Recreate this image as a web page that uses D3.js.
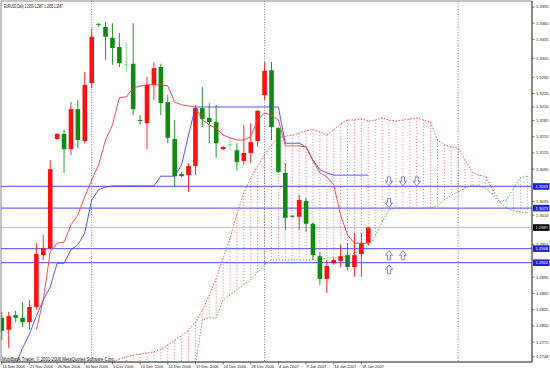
<!DOCTYPE html>
<html><head><meta charset="utf-8">
<script src="https://cdn.jsdelivr.net/npm/d3@7"></script>
<style>html,body{margin:0;padding:0;background:#fff;overflow:hidden}</style>
</head><body><svg id="c" width="550" height="370"></svg>
<script>
// ---- data ----
const opens  = [1.2820,1.2798,1.2825,1.2820,1.2812,1.2840,1.2936,1.2949,1.3151,1.3160,1.3132,1.3206,1.3147,1.3254,1.3363,1.3358,1.3338,1.3321,1.3288,1.3290,1.3185,1.3180,1.3251,1.3284,1.3219,1.3151,1.3086,1.3084,1.3101,1.3208,1.3190,1.3182,1.3132,1.3140,1.3130,1.3110,1.3125,1.3147,1.3232,1.3278,1.3171,1.3088,1.3008,1.3007,1.3036,1.2994,1.2934,1.2892,1.2921,1.2925,1.2936,1.2914,1.2938,1.2959];
const highs  = [1.2831,1.2831,1.2833,1.2849,1.2853,1.2958,1.2973,1.3112,1.3162,1.3168,1.3219,1.3223,1.3275,1.3354,1.3365,1.3367,1.3365,1.3347,1.3328,1.3365,1.3195,1.3266,1.3293,1.3290,1.3232,1.3186,1.3090,1.3106,1.3214,1.3247,1.3217,1.3214,1.3138,1.3153,1.3143,1.3177,1.3180,1.3204,1.3293,1.3293,1.3173,1.3106,1.3010,1.3047,1.3042,1.2997,1.2942,1.2927,1.2931,1.2955,1.2958,1.2977,1.2977,1.2987];
const lows   = [1.2779,1.2764,1.2812,1.2803,1.2798,1.2835,1.2927,1.2946,1.3149,1.3088,1.3121,1.3134,1.3143,1.3245,1.3358,1.3297,1.3288,1.3284,1.3275,1.3195,1.3177,1.3132,1.3223,1.3195,1.3143,1.3062,1.3080,1.3053,1.3084,1.3173,1.3143,1.3116,1.3130,1.3130,1.3092,1.3103,1.3106,1.3136,1.3223,1.3149,1.3088,1.2983,1.3005,1.2983,1.2979,1.2927,1.2881,1.2866,1.2918,1.2914,1.2908,1.2896,1.2896,1.2955];
const closes = [1.2796,1.2823,1.2820,1.2812,1.2840,1.2938,1.2949,1.3095,1.3160,1.3132,1.3206,1.3149,1.3251,1.3340,1.3362,1.3340,1.3319,1.3291,1.3288,1.3206,1.3184,1.3251,1.3282,1.3217,1.3153,1.3082,1.3082,1.3101,1.3208,1.3188,1.3182,1.3143,1.3136,1.3140,1.3108,1.3125,1.3145,1.3203,1.3277,1.3173,1.3090,1.3005,1.3007,1.3038,1.2994,1.2936,1.2892,1.2916,1.2927,1.2934,1.2914,1.2936,1.2958,1.2987];

const dateLabels    = ["16 Nov 2006","21 Nov 2006","26 Nov 2006","30 Nov 2006","5 Dec 2006","10 Dec 2006","14 Dec 2006","19 Dec 2006","24 Dec 2006","28 Dec 2006","4 Jan 2007","9 Jan 2007","14 Jan 2007","18 Jan 2007"];
const dateLabelBars = [0,4,8,12,16,20,24,28,32,36,40,44,48,52];
const priceTicks = [1.3395,1.3365,1.3335,1.3300,1.3265,1.3235,1.3210,1.3185,1.3155,1.3125,1.3095,1.3035,1.3010,1.2955,1.2895,1.2865,1.2835,1.2805,1.2775,1.2748];

const tenkanStart = 5;
const tenkan = [1.2798,1.2853,1.2942,1.2958,1.2960,1.2992,1.3010,1.3044,1.3075,1.3103,1.3149,1.3177,1.3227,1.3229,1.3245,1.3249,1.3251,1.3251,1.3251,1.3249,1.3219,1.3214,1.3212,1.3210,1.3186,1.3177,1.3171,1.3158,1.3153,1.3149,1.3149,1.3155,1.3186,1.3199,1.3195,1.3186,1.3138,1.3138,1.3138,1.3136,1.3110,1.3088,1.3081,1.3066,1.3010,1.2973,1.2958,1.2958,1.2958];
const kijunStart = 2;
const kijun = [1.2733,1.2764,1.2790,1.2823,1.2853,1.2877,1.2921,1.2921,1.2946,1.2955,1.2977,1.3038,1.3057,1.3062,1.3064,1.3064,1.3064,1.3064,1.3064,1.3064,1.3064,1.3082,1.3082,1.3082,1.3103,1.3158,1.3210,1.3210,1.3210,1.3210,1.3210,1.3210,1.3210,1.3210,1.3210,1.3210,1.3210,1.3210,1.3210,1.3143,1.3143,1.3143,1.3136,1.3112,1.3094,1.3088,1.3084,1.3084,1.3084,1.3084,1.3084,1.3084];
const spanAStart = 15;
const spanA = [1.2730,1.2738,1.2744,1.2748,1.2751,1.2753,1.2755,1.2757,1.2762,1.2770,1.2779,1.2787,1.2797,1.2812,1.2834,1.2862,1.2893,1.2930,1.2967,1.3012,1.3051,1.3079,1.3101,1.3121,1.3140,1.3153,1.3156,1.3158,1.3162,1.3166,1.3168,1.3164,1.3158,1.3168,1.3179,1.3186,1.3186,1.3188,1.3184,1.3186,1.3190,1.3186,1.3184,1.3186,1.3188,1.3190,1.3186,1.3182,1.3149,1.3140,1.3136,1.3134,1.3112,1.3090,1.3084,1.3081,1.3057,1.3034,1.3023,1.3018,1.3016,1.3014];
const spanBStart = 28;
const spanB = [1.2731,1.2816,1.2820,1.2820,1.2853,1.2862,1.2872,1.2881,1.2890,1.2905,1.2918,1.2927,1.2927,1.2927,1.2927,1.2927,1.2927,1.2927,1.2927,1.2931,1.2931,1.2931,1.2934,1.2940,1.2946,1.2953,1.2971,1.2997,1.3020,1.3023,1.3023,1.3023,1.3023,1.3023,1.3023,1.3027,1.3038,1.3047,1.3053,1.3060,1.3066,1.3064,1.3060,1.3047,1.3034,1.3038,1.3060,1.3079,1.3082];

const levelLines = [1.3063, 1.3023, 1.2948, 1.2922];
const levelLabels = ["1.3063","1.3023","1.2948","1.2922"];
const bidPrice = 1.2987;
const bidLabel = "1.2987";
const separatorBars = [13, 38, 66];
const arrowBars   = [56, 58, 60, 56, 56, 58, 56];
const arrowPrices = [1.3063, 1.3063, 1.3063, 1.3023, 1.2948, 1.2948, 1.2922];
const arrowDirs   = ["down","down","down","down","up","up","up"];
const titleText = "EURUSD,Daily  1.2959 1.2987 1.2955 1.2987";
const copyText = "MultiBank Trader, \u00A9 2001-2006 MetaQuotes Software Corp.";

// ---- layout ----
const P = {left:1, top:1, right:532, bottom:362};
const x = d3.scaleLinear().domain([0, 53]).range([1.8, 1.8 + 53 * 6.915]);
const y = d3.scaleLinear().domain([1.27383, 1.34061]).range([P.bottom, P.top]);
const FONT = "'Liberation Sans', Arial, sans-serif";

const svg = d3.select("#c");
svg.append("rect").attr("width",550).attr("height",370).attr("fill","#fff");
svg.append("defs").append("clipPath").attr("id","clip")
  .append("rect").attr("x",P.left).attr("y",P.top).attr("width",P.right-P.left).attr("height",P.bottom-P.top);
const g = svg.append("g").attr("clip-path","url(#clip)");

const series = (start, arr) => arr.map((v,i)=>({i:start+i, v}));
const A = series(spanAStart, spanA), B = series(spanBStart, spanB);
const bMap = new Map(B.map(d=>[d.i,d.v]));

// cloud hatching
A.forEach(d=>{
  const b = bMap.has(d.i) ? bMap.get(d.i) : null;
  const up = (b === null) || d.v >= b;
  g.append("line")
    .attr("x1", x(d.i)).attr("x2", x(d.i))
    .attr("y1", y(d.v)).attr("y2", b === null ? P.bottom + 2 : y(b))
    .attr("stroke", up ? "#ef6c6c" : "#5cc05c").attr("stroke-width", 0.8)
    .attr("stroke-dasharray", "1.2,1.8");
});
const line = d3.line().x(d=>x(d.i)).y(d=>y(d.v));
g.append("path").datum(A).attr("d", line).attr("fill","none")
  .attr("stroke","#e04848").attr("stroke-width",0.9).attr("stroke-dasharray","1.5,1.5");
g.append("path").datum(B).attr("d", line).attr("fill","none")
  .attr("stroke","#3fae3f").attr("stroke-width",0.9).attr("stroke-dasharray","1.5,1.5");

// period separators
separatorBars.forEach(b=>{
  g.append("line").attr("x1",x(b)).attr("x2",x(b)).attr("y1",P.top).attr("y2",P.bottom)
    .attr("stroke","#444").attr("stroke-width",0.7).attr("stroke-dasharray","1,1.6");
});

// bid line
g.append("line").attr("x1",P.left).attr("x2",P.right).attr("y1",y(bidPrice)).attr("y2",y(bidPrice))
  .attr("stroke","#b4b4b4").attr("stroke-width",0.8);

// horizontal level lines
levelLines.forEach(p=>{
  g.append("line").attr("x1",P.left).attr("x2",P.right).attr("y1",y(p)).attr("y2",y(p))
    .attr("stroke","#6d6df2").attr("stroke-width",1.2);
});

// candles
const bw = 4.6;
opens.forEach((o,i)=>{
  const c = closes[i], h = highs[i], l = lows[i];
  const col = c > o ? "#ff1010" : (c < o ? "#108a10" : "#70e070");
  g.append("line").attr("x1",x(i)).attr("x2",x(i)).attr("y1",y(h)).attr("y2",y(l))
    .attr("stroke",col).attr("stroke-width",0.9);
  const top = y(Math.max(o,c)), bot = y(Math.min(o,c));
  if (bot - top < 0.8) {
    g.append("line").attr("x1",x(i)-bw/2).attr("x2",x(i)+bw/2).attr("y1",top).attr("y2",top)
      .attr("stroke", c === o ? "#70e070" : col).attr("stroke-width",1);
  } else {
    g.append("rect").attr("x",x(i)-bw/2).attr("y",top).attr("width",bw).attr("height",bot-top)
      .attr("fill",col);
  }
});

// tenkan / kijun
g.append("path").datum(series(kijunStart,kijun)).attr("d",line).attr("fill","none")
  .attr("stroke","#4444ee").attr("stroke-width",0.9);
g.append("path").datum(series(tenkanStart,tenkan)).attr("d",line).attr("fill","none")
  .attr("stroke","#ee3a3a").attr("stroke-width",0.9);

// arrows
arrowBars.forEach((b,k)=>{
  const cx = x(b), ly = y(arrowPrices[k]);
  let pts;
  if (arrowDirs[k] === "down") {
    const t = ly - 0.6;
    pts = [[cx-1.5,t-9],[cx+1.5,t-9],[cx+1.5,t-4.6],[cx+3.6,t-4.6],[cx,t],[cx-3.6,t-4.6],[cx-1.5,t-4.6]];
  } else {
    const t = ly + 2;
    pts = [[cx,t],[cx+3.6,t+4.6],[cx+1.5,t+4.6],[cx+1.5,t+9],[cx-1.5,t+9],[cx-1.5,t+4.6],[cx-3.6,t+4.6]];
  }
  g.append("polygon").attr("points", pts.map(p=>p.join(",")).join(" "))
    .attr("fill","#fff").attr("stroke","#6262ee").attr("stroke-width",0.8);
});

// frame & axes
svg.append("rect").attr("x",P.left).attr("y",P.top).attr("width",P.right-P.left).attr("height",P.bottom-P.top)
  .attr("fill","none").attr("stroke","#6a6a6a").attr("stroke-width",0.8);
svg.append("line").attr("x1",P.right).attr("x2",P.right).attr("y1",P.top).attr("y2",P.bottom)
  .attr("stroke","#444").attr("stroke-width",0.9);
svg.append("line").attr("x1",P.left).attr("x2",P.right).attr("y1",P.bottom).attr("y2",P.bottom)
  .attr("stroke","#444").attr("stroke-width",0.9);

// y ticks
priceTicks.forEach(p=>{
  svg.append("line").attr("x1",P.right).attr("x2",P.right+2.5).attr("y1",y(p)).attr("y2",y(p))
    .attr("stroke","#444").attr("stroke-width",0.7);
  svg.append("text").attr("x",536).attr("y",y(p)).attr("dy","0.35em")
    .attr("font-family",FONT).attr("font-size",4.1).attr("fill","#222").text(p.toFixed(4));
});

// price boxes
function box(p, label, fill){
  svg.append("rect").attr("x",533).attr("y",y(p)-3.3).attr("width",16.5).attr("height",6.6).attr("fill",fill);
  svg.append("text").attr("x",535.5).attr("y",y(p)).attr("dy","0.35em")
    .attr("font-family",FONT).attr("font-size",4.1).attr("fill","#fff").text(label);
}
levelLines.forEach((p,k)=>box(p, levelLabels[k], "#2323d8"));
box(bidPrice, bidLabel, "#000");

// x labels
dateLabelBars.forEach((b,k)=>{
  svg.append("line").attr("x1",x(b)).attr("x2",x(b)).attr("y1",P.bottom).attr("y2",P.bottom+2.5)
    .attr("stroke","#444").attr("stroke-width",0.7);
  svg.append("text").attr("x",x(b)+0.5).attr("y",368.3)
    .attr("font-family",FONT).attr("font-size",4.0).attr("fill","#222").text(dateLabels[k]);
});

// title & copyright
svg.append("text").attr("x",4).attr("y",7.6).attr("font-family",FONT).attr("font-size",4.6)
  .attr("fill","#111").attr("textLength",59).attr("lengthAdjust","spacingAndGlyphs").text(titleText);
svg.append("text").attr("x",2).attr("y",360.8).attr("font-family",FONT).attr("font-size",4.6)
  .attr("fill","#111").attr("textLength",113).attr("lengthAdjust","spacingAndGlyphs").text(copyText);
</script></body></html>
